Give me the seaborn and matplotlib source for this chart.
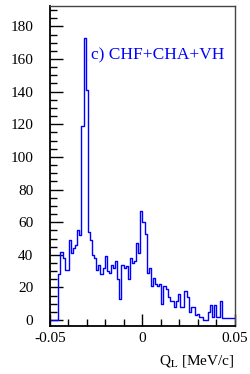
import numpy as np
import pandas as pd
import matplotlib
matplotlib.use("Agg")
import matplotlib.pyplot as plt
from matplotlib.ticker import MultipleLocator, FixedLocator, FixedFormatter
import seaborn as sns

# Q_L histogram, 88 bins over [-0.05, 0.05] MeV/c
q_lo, q_hi, n_bins = -0.05, 0.05, 88
counts = [
    0, 0, 0, 0, 28, 42, 38, 31, 31, 49,
    41, 44, 46, 55, 52, 119, 173, 141, 54, 49,
    40, 38, 31, 34, 28, 32, 39, 30, 29, 34,
    32, 36, 25, 13, 34, 32, 33, 25, 38, 35,
    36, 47, 41, 67, 60, 53, 29, 32, 21, 26,
    22, 21, 22, 10, 21, 19, 14, 12, 12, 8,
    12, 16, 8, 8, 18, 14, 5, 8, 8, 3,
    4, 2, 2, 0, 0, 5, 9, 2, 9, 2,
    2, 12, 1, 1, 1, 1, 1, 1,
]
panel_label = "c) CHF+CHA+VH"
x_ticks = [-0.05, 0, 0.05]
x_ticklabels = ["-0.05", "0", "0.05"]

plt.rcParams["font.family"] = ["Liberation Serif", "DejaVu Serif"]
plt.rcParams["mathtext.fontset"] = "stix"
plt.rcParams["axes.unicode_minus"] = False

edges = np.linspace(q_lo, q_hi, n_bins + 1)
df = pd.DataFrame({"q": 0.5 * (edges[:-1] + edges[1:]), "n": counts})

fig = plt.figure(figsize=(2.51, 3.74), dpi=100)
ax = fig.add_axes([0.199, 0.128, 0.737, 0.856])

sns.histplot(data=df, x="q", weights="n", bins=n_bins, binrange=(q_lo, q_hi),
             element="step", fill=False, color="#0000ff", linewidth=1.0, ax=ax)

ax.set_xlim(q_lo, q_hi)
ax.set_ylim(-3.7, 192.5)
ax.set_ylabel("")
ax.set_xlabel(r"Q$_{\rm L}$ [MeV/c]", fontsize=11, loc="right", labelpad=6)

ax.xaxis.set_major_locator(FixedLocator(x_ticks))
ax.xaxis.set_major_formatter(FixedFormatter(x_ticklabels))
ax.xaxis.set_minor_locator(MultipleLocator(0.01))
ax.yaxis.set_major_locator(MultipleLocator(20))
ax.yaxis.set_minor_locator(MultipleLocator(5))

ax.tick_params(axis="both", which="both", direction="in", top=False, right=False,
               labelsize=11, color="black")
ax.tick_params(axis="y", which="major", length=9, width=1.0, pad=12)
ax.tick_params(axis="y", which="minor", length=5, width=1.0)
ax.tick_params(axis="x", which="major", length=9, width=1.0, pad=4)
ax.tick_params(axis="x", which="minor", length=5, width=1.0)

for side in ["left", "bottom"]:
    ax.spines[side].set_linewidth(1.3)
    ax.spines[side].set_color("black")
for side in ["top", "right"]:
    ax.spines[side].set_linewidth(1.0)
    ax.spines[side].set_color("#444444")

ax.text(0.222, 0.847, panel_label, transform=ax.transAxes, color="#0000ff",
        fontsize=12.5, ha="left", va="center")

fig.savefig("out.png", dpi=100)
